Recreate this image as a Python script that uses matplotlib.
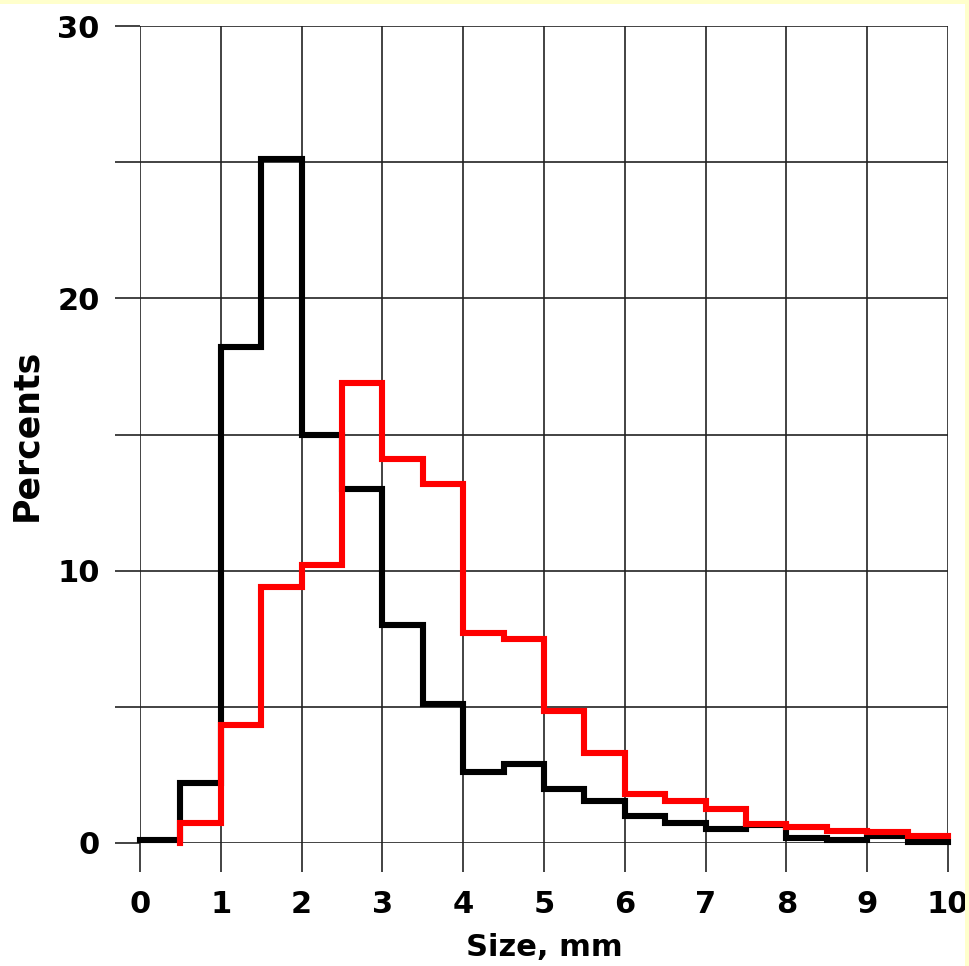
import numpy as np
import matplotlib
matplotlib.use("Agg")
import matplotlib.pyplot as plt
from matplotlib.patches import Rectangle

# bin edges, 0.5 mm wide
edges = np.arange(0, 10.01, 0.5)

# black series: bins 0-0.5 ... 9.5-10
black_vals = [0.1, 2.2, 18.2, 25.1, 15.0, 13.0, 8.0, 5.1, 2.6, 2.9,
              2.0, 1.55, 1.0, 0.75, 0.53, 0.65, 0.2, 0.1, 0.25, 0.05]

# red series: starts at 0.5 mm (bins 0.5-1 ... 9.5-10)
red_start = 0.5
red_vals = [0.75, 4.35, 9.4, 10.2, 16.9, 14.1, 13.2, 7.7, 7.5, 4.85,
            3.3, 1.8, 1.55, 1.25, 0.7, 0.57, 0.43, 0.42, 0.26]

x_ticks = list(range(0, 11))
y_major = [0, 10, 20, 30]
y_minor = [5, 15, 25]

plt.rcParams["font.family"] = "DejaVu Sans"
plt.rcParams["font.weight"] = "bold"

fig = plt.figure(figsize=(9.7, 9.66), dpi=100)
ax = fig.add_axes([140 / 970, 123 / 966, 808 / 970, 817 / 966])

# black line
bx = edges
by = np.append(black_vals, black_vals[-1])
ax.step(bx, by, where="post", color="black", lw=4.4, zorder=3,
        solid_joinstyle="miter", clip_on=False)

# red line with the rise from zero at its first edge
red_edges = edges[edges >= red_start]
rx = np.concatenate([[red_start], red_edges])
ry = np.concatenate([[0], red_vals, [red_vals[-1]]])
ax.step(rx, ry, where="post", color="#ff0000", lw=4.4, zorder=4,
        solid_joinstyle="miter", clip_on=False)

ax.set_xlim(0, 10)
ax.set_ylim(0, 30)
ax.set_xticks(x_ticks)
ax.set_yticks(y_major)
ax.set_yticks(y_minor, minor=True)

gcol = "#222222"
ax.grid(True, which="both", color=gcol, lw=1.2, zorder=1)
ax.tick_params(axis="y", which="both", direction="out", length=18,
               width=1.2, color=gcol, labelsize=22, pad=11)
ax.tick_params(axis="x", direction="out", length=21, width=1.2,
               color=gcol, labelsize=22, pad=13)
for s in ax.spines.values():
    s.set_visible(False)

ax.set_xlabel("Size, mm", fontsize=22, fontweight="bold", labelpad=10)
ax.set_ylabel("Percents", fontsize=25, fontweight="bold", labelpad=10)

# thin yellow border strips of the original slide
fig.add_artist(Rectangle((0, 1 - 4 / 966), 1, 4 / 966,
                         transform=fig.transFigure, color="#ffffcc", lw=0))
fig.add_artist(Rectangle((1 - 5 / 970, 0), 5 / 970, 1,
                         transform=fig.transFigure, color="#ffffcc", lw=0))

fig.savefig("out.png", dpi=100)
